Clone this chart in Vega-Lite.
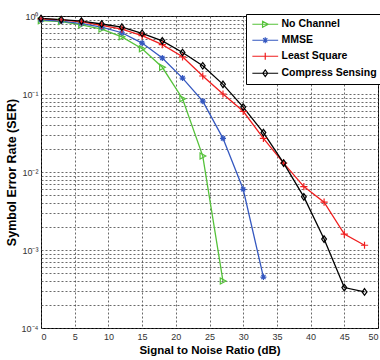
{
  "$schema": "https://vega.github.io/schema/vega-lite/v6.json",
  "width": 337,
  "height": 312,
  "autosize": {"type": "none"},
  "padding": {"left": 41, "top": 16, "right": 2, "bottom": 32},
  "background": "white",
  "config": {
    "font": "Liberation Sans",
    "view": {"stroke": "black", "strokeWidth": 1},
    "axis": {
      "gridColor": "#444",
      "gridDash": [2, 2],
      "gridWidth": 0.8,
      "gridOpacity": 1,
      "domain": false,
      "ticks": false,
      "labelFont": "Liberation Sans",
      "labelFontSize": 9,
      "labelColor": "#333",
      "titleFont": "Liberation Sans",
      "titleFontSize": 11.5,
      "titleFontWeight": "bold",
      "titleColor": "black"
    }
  },
  "data": {
    "values": [
      {"snr": 0, "ser": 0.87, "series": "No Channel"},
      {"snr": 3, "ser": 0.85, "series": "No Channel"},
      {"snr": 6, "ser": 0.77, "series": "No Channel"},
      {"snr": 9, "ser": 0.68, "series": "No Channel"},
      {"snr": 12, "ser": 0.54, "series": "No Channel"},
      {"snr": 15, "ser": 0.38, "series": "No Channel"},
      {"snr": 18, "ser": 0.22, "series": "No Channel"},
      {"snr": 21, "ser": 0.087, "series": "No Channel"},
      {"snr": 24, "ser": 0.016, "series": "No Channel"},
      {"snr": 27, "ser": 0.0004, "series": "No Channel"},
      {"snr": 0, "ser": 0.89, "series": "MMSE"},
      {"snr": 3, "ser": 0.86, "series": "MMSE"},
      {"snr": 6, "ser": 0.80, "series": "MMSE"},
      {"snr": 9, "ser": 0.72, "series": "MMSE"},
      {"snr": 12, "ser": 0.61, "series": "MMSE"},
      {"snr": 15, "ser": 0.45, "series": "MMSE"},
      {"snr": 18, "ser": 0.29, "series": "MMSE"},
      {"snr": 21, "ser": 0.16, "series": "MMSE"},
      {"snr": 24, "ser": 0.081, "series": "MMSE"},
      {"snr": 27, "ser": 0.027, "series": "MMSE"},
      {"snr": 30, "ser": 0.006, "series": "MMSE"},
      {"snr": 33, "ser": 0.00045, "series": "MMSE"},
      {"snr": 0, "ser": 0.92, "series": "Least Square"},
      {"snr": 3, "ser": 0.89, "series": "Least Square"},
      {"snr": 6, "ser": 0.84, "series": "Least Square"},
      {"snr": 9, "ser": 0.76, "series": "Least Square"},
      {"snr": 12, "ser": 0.68, "series": "Least Square"},
      {"snr": 15, "ser": 0.56, "series": "Least Square"},
      {"snr": 18, "ser": 0.43, "series": "Least Square"},
      {"snr": 21, "ser": 0.30, "series": "Least Square"},
      {"snr": 24, "ser": 0.17, "series": "Least Square"},
      {"snr": 27, "ser": 0.10, "series": "Least Square"},
      {"snr": 30, "ser": 0.060, "series": "Least Square"},
      {"snr": 33, "ser": 0.027, "series": "Least Square"},
      {"snr": 36, "ser": 0.013, "series": "Least Square"},
      {"snr": 39, "ser": 0.0065, "series": "Least Square"},
      {"snr": 42, "ser": 0.0041, "series": "Least Square"},
      {"snr": 45, "ser": 0.0016, "series": "Least Square"},
      {"snr": 48, "ser": 0.00115, "series": "Least Square"},
      {"snr": 0, "ser": 0.93, "series": "Compress Sensing"},
      {"snr": 3, "ser": 0.90, "series": "Compress Sensing"},
      {"snr": 6, "ser": 0.86, "series": "Compress Sensing"},
      {"snr": 9, "ser": 0.79, "series": "Compress Sensing"},
      {"snr": 12, "ser": 0.72, "series": "Compress Sensing"},
      {"snr": 15, "ser": 0.60, "series": "Compress Sensing"},
      {"snr": 18, "ser": 0.48, "series": "Compress Sensing"},
      {"snr": 21, "ser": 0.34, "series": "Compress Sensing"},
      {"snr": 24, "ser": 0.23, "series": "Compress Sensing"},
      {"snr": 27, "ser": 0.133, "series": "Compress Sensing"},
      {"snr": 30, "ser": 0.068, "series": "Compress Sensing"},
      {"snr": 33, "ser": 0.032, "series": "Compress Sensing"},
      {"snr": 36, "ser": 0.013, "series": "Compress Sensing"},
      {"snr": 39, "ser": 0.0048, "series": "Compress Sensing"},
      {"snr": 42, "ser": 0.00138, "series": "Compress Sensing"},
      {"snr": 45, "ser": 0.00033, "series": "Compress Sensing"},
      {"snr": 48, "ser": 0.00029, "series": "Compress Sensing"}
    ]
  },
  "encoding": {
    "x": {
      "field": "snr", "type": "quantitative",
      "scale": {"domain": [0, 50], "nice": false},
      "axis": {"values": [0, 5, 10, 15, 20, 25, 30, 35, 40, 45, 50], "title": "Signal to Noise Ratio (dB)", "labelPadding": 4, "titlePadding": 3}
    },
    "y": {
      "field": "ser", "type": "quantitative",
      "scale": {"type": "log", "domain": [0.0001, 1], "nice": false},
      "axis": {
        "title": "Symbol Error Rate (SER)",
        "titleFontSize": 12.5,
        "values": [0.0001, 0.0002, 0.0003, 0.0004, 0.0005, 0.0006, 0.0007, 0.0008, 0.0009, 0.001, 0.002, 0.003, 0.004, 0.005, 0.006, 0.007, 0.008, 0.009, 0.01, 0.02, 0.03, 0.04, 0.05, 0.06, 0.07, 0.08, 0.09, 0.1, 0.2, 0.3, 0.4, 0.5, 0.6, 0.7, 0.8, 0.9, 1],
        "labelExpr": "abs(log(datum.value)/LN10 - round(log(datum.value)/LN10)) < 0.000001 ? ['10⁻⁴','10⁻³','10⁻²','10⁻¹','10⁰'][round(log(datum.value)/LN10) + 4] : ''",
        "labelPadding": 3,
        "titlePadding": 3
      }
    },
    "color": {
      "field": "series", "type": "nominal",
      "scale": {
        "domain": ["No Channel", "MMSE", "Least Square", "Compress Sensing"],
        "range": ["#55c23a", "#3558c0", "#f01e1e", "#000000"]
      },
      "legend": {
        "title": null,
        "orient": "none",
        "legendX": 205,
        "legendY": -2,
        "fillColor": "white",
        "strokeColor": "black",
        "padding": 5,
        "rowPadding": 4,
        "labelFont": "Liberation Sans",
        "labelFontSize": 10.5,
        "labelFontWeight": "bold",
        "labelColor": "black",
        "labelOffset": 20,
        "symbolSize": 36,
        "symbolStrokeWidth": 1.2,
        "encode": {
          "symbols": {
            "update": {
              "shape": {"signal": "datum.value === 'No Channel' ? 'M-1.3,0L7.3,0M2.1,-1L4,0L2.1,1Z' : datum.value === 'MMSE' ? 'M-1.3,0L7.3,0M3,-1L3,1M2.3,-0.7L3.7,0.7M2.3,0.7L3.7,-0.7' : datum.value === 'Least Square' ? 'M-1.3,0L7.3,0M3,-1.2L3,1.2' : 'M-1.3,0L7.3,0M3,-1.1L3.8,0L3,1.1L2.2,0Z'"},
              "size": {"value": 36},
              "fill": {"value": "transparent"},
              "stroke": {"scale": "color", "field": "value"},
              "strokeWidth": {"value": 1.2}
            }
          }
        }
      }
    }
  },
  "layer": [
    {"mark": {"type": "line", "strokeWidth": 1.3}},
    {
      "transform": [{"filter": "datum.series === 'No Channel'"}],
      "mark": {"type": "point", "filled": false, "size": 36, "strokeWidth": 1.2, "opacity": 1, "shape": "M-0.9,-1L1,0L-0.9,1Z"}
    },
    {
      "transform": [{"filter": "datum.series === 'MMSE'"}],
      "mark": {"type": "point", "filled": false, "size": 36, "strokeWidth": 1.2, "opacity": 1, "shape": "M-1,0L1,0M0,-1L0,1M-0.7,-0.7L0.7,0.7M-0.7,0.7L0.7,-0.7"}
    },
    {
      "transform": [{"filter": "datum.series === 'Least Square'"}],
      "mark": {"type": "point", "filled": false, "size": 36, "strokeWidth": 1.2, "opacity": 1, "shape": "M-1.2,0L1.2,0M0,-1.2L0,1.2"}
    },
    {
      "transform": [{"filter": "datum.series === 'Compress Sensing'"}],
      "mark": {"type": "point", "filled": false, "size": 36, "strokeWidth": 1.2, "opacity": 1, "shape": "M0,-1.1L0.8,0L0,1.1L-0.8,0Z"}
    }
  ]
}
